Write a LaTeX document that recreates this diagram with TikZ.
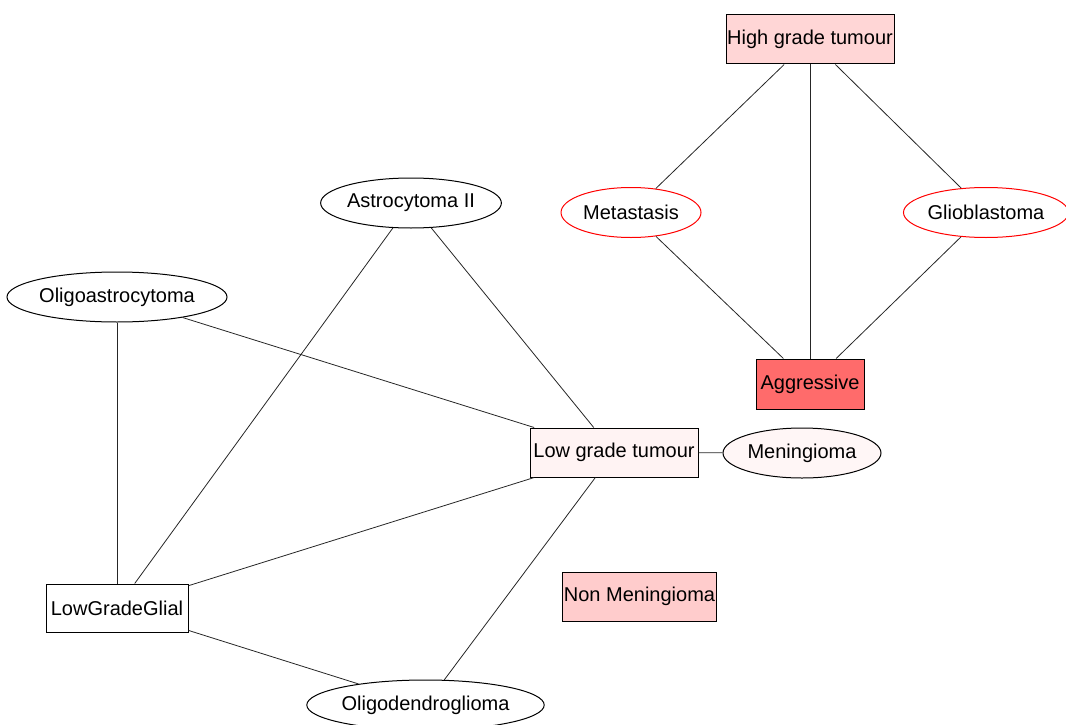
\documentclass[tikz,border=0pt]{standalone}
\usepackage{fontspec}
\setmainfont{Liberation Sans}
\usetikzlibrary{shapes,positioning}
\definecolor{HIGHPINK}{HTML}{FFD6D6}
\definecolor{AGGRED}{HTML}{FF6B6B}
\definecolor{LOWPINK}{HTML}{FFF3F3}
\definecolor{MENPINK}{HTML}{FFF6F6}
\definecolor{NONPINK}{HTML}{FFCCCC}
\definecolor{EDGERED}{HTML}{FF0000}

\begin{document}
\begin{tikzpicture}[x=0.75pt,y=-0.75pt]
\tikzstyle{vertex}=[draw=black,line width=0.75pt,inner sep=0pt,font=\fontsize{15}{17}\selectfont]
\tikzstyle{grade box}=[vertex,rectangle,minimum height=36.75pt]
\tikzstyle{type ellipse}=[vertex,ellipse,minimum height=37.5pt,fill=white]
\tikzstyle{high ellipse}=[type ellipse,draw=EDGERED]
\tikzstyle{myEdge}=[draw=black!85,line width=0.6pt]

\useasboundingbox (0,0) rectangle (1066,724);
\clip (0,0) rectangle (1066,724);

% high grade part
\node[grade box,fill=HIGHPINK,minimum width=126pt] (highGrade) at (810,39.5) {High grade tumour};
\node[high ellipse,minimum width=105pt] (metastasis) at (631,212.5) {Metastasis};
\node[high ellipse,minimum width=123pt] (glioblastoma) at (986,212.5) {Glioblastoma};
\node[grade box,fill=AGGRED,minimum width=81pt,minimum height=37.5pt] (aggressive) at (810,384) {Aggressive};

% low grade part
\node[type ellipse,minimum width=123pt] (astrocytoma) at (411,203) {Astrocytoma II};
\node[type ellipse,minimum width=164pt] (oligoastro) at (117,297) {Oligoastrocytoma};
\node[grade box,fill=LOWPINK,minimum width=126pt] (lowGrade) at (614,452.5) {Low grade tumour};
\node[type ellipse,fill=MENPINK,minimum width=118.5pt] (meningioma) at (802,453) {Meningioma};
\node[grade box,fill=NONPINK,minimum width=116pt] (nonMeningioma) at (639.5,596.5) {Non Meningioma};
\node[grade box,fill=white,minimum width=106.5pt,minimum height=36pt] (lowGradeGlial) at (117,608) {LowGradeGlial};
\node[type ellipse,minimum width=172pt] (oligodendro) at (425.5,705) {Oligodendroglioma};

\foreach \x in {metastasis,aggressive,glioblastoma}
    \draw[myEdge] (highGrade) -- (\x);
\draw[myEdge] (metastasis) -- (aggressive);
\draw[myEdge] (glioblastoma) -- (aggressive);

\foreach \x in {oligoastro,astrocytoma,lowGrade,oligodendro}
    \draw[myEdge] (lowGradeGlial) -- (\x);
\foreach \x in {oligoastro,astrocytoma,meningioma,oligodendro}
    \draw[myEdge] (lowGrade) -- (\x);
\end{tikzpicture}
\end{document}
